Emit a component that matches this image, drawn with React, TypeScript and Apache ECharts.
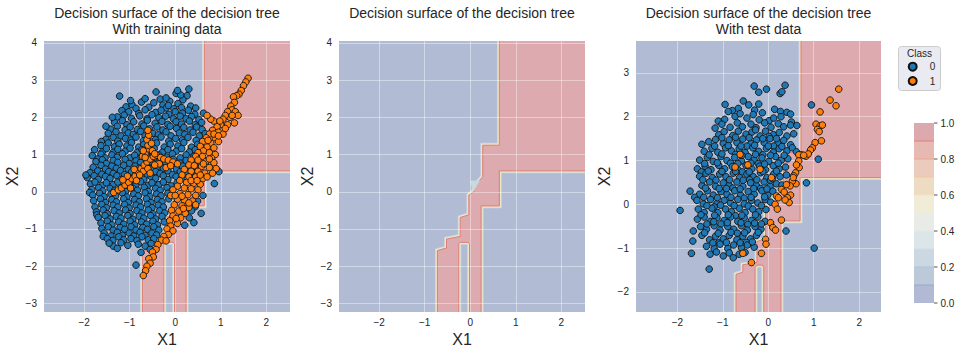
import React, { useEffect, useRef } from 'react';
import * as echarts from 'echarts';

// ---------- data ----------
const TITLES = [
  'Decision surface of the decision tree\nWith training data',
  'Decision surface of the decision tree',
  'Decision surface of the decision tree\nWith test data',
];
const X_RANGE_TRAIN = [-2.88, 2.52];
const Y_RANGE_TRAIN = [-3.23, 4.05];
const X_RANGE_TEST = [-2.91, 2.48];
const Y_RANGE_TEST = [-2.46, 3.73];
const CLASS_NAMES = ['0', '1'];
const CB_LEVELS = [0, 0.1, 0.2, 0.3, 0.4, 0.5, 0.6, 0.7, 0.8, 0.9, 1.0];
const CB_TICKS = [0, 0.2, 0.4, 0.6, 0.8, 1.0];

// decision region (class 1) polygons, in data units
const REGION_TRAIN = [[0.64,4.5],[0.64,1.25],[0.275,1.25],[0.275,0.40],[0.2,0.3],[0.1,0.12],[0.07,0.0],[-0.03,-0.09],[-0.03,-0.62],[-0.22,-0.69],[-0.22,-1.2],[-0.52,-1.27],[-0.52,-1.51],[-0.72,-1.58],[-0.72,-3.6],[-0.25,-3.6],[-0.25,-1.4],[-0.22,-1.36],[-0.05,-1.36],[-0.015,-1.4],[-0.015,-3.6],[0.24,-3.6],[0.24,-0.38],[0.64,-0.38],[0.64,0.56],[2.8,0.56],[2.8,4.5]];
const NOTCH_TRAIN = [[0.0,0.29],[0.2,0.29],[0.07,0.02]];
const REGION_TEST = [[0.72,4.2],[0.72,1.18],[0.33,1.18],[0.33,0.40],[0.25,0.3],[0.14,0.12],[0.1,0.0],[-0.06,-0.1],[-0.06,-0.78],[-0.25,-0.85],[-0.25,-1.33],[-0.56,-1.38],[-0.56,-1.55],[-0.71,-1.6],[-0.71,-2.9],[-0.29,-2.9],[-0.29,-1.45],[-0.25,-1.39],[-0.13,-1.39],[-0.1,-1.45],[-0.1,-2.9],[0.28,-2.9],[0.28,-0.38],[0.7,-0.38],[0.7,0.61],[2.8,0.61],[2.8,4.2]];
const NOTCH_TEST = [[0.02,0.3],[0.22,0.3],[0.1,0.05]];

const TRAIN_0 = [
[-0.42,2.68],[0.02,2.64],[0.3,2.76],[0.26,2.58],[-1.22,2.57],[-0.33,2.49],[-0.12,2.43],[0.17,2.47],[-1.08,2.28],[-0.95,2.34],[-0.74,2.41],[-0.58,2.27],[-0.47,2.39],[-0.27,2.33],[0.06,2.37],[0.14,2.26],[0.34,2.3],[-1.17,2.18],[-0.86,2.24],[-0.2,2.25],[-0.03,2.23],
[-0.98,2.45],[-0.66,2.5],[0.12,2.6],[-0.15,2.32],[0.45,2.25],[0.05,2.72],[-0.2,2.52],
[-1.02,2.15],[-0.8,2.1],[-0.66,2.2],[-0.43,2.13],[-0.31,2.19],[-0.14,2.08],[0.0,2.15],[0.16,2.11],[0.29,2.19],[0.43,2.08],[0.62,2.11],[-1.27,2.01],[-1.12,2.06],[-0.96,1.97],[-0.78,2.04],[-0.62,1.96],[-0.51,2.07],[-0.36,1.99],[-0.21,2.03],[-0.04,1.96],[0.11,2.03],[0.24,1.96],[0.36,2.02],[0.52,1.94],
[-1.33,1.86],[-1.16,1.91],[-1.06,1.8],[-0.91,1.88],[-0.73,1.82],[-0.61,1.92],[-0.44,1.84],[-0.29,1.89],[-0.16,1.81],[0.02,1.88],[0.14,1.82],[0.31,1.9],[0.44,1.8],[0.58,1.86],[-1.38,2.0],
[-1.42,1.68],[-1.27,1.76],[-1.1,1.66],[-0.99,1.74],[-0.83,1.67],[-0.69,1.77],[-0.56,1.69],[-0.4,1.74],[-0.27,1.66],[-0.11,1.76],[0.03,1.7],[0.19,1.73],[0.33,1.66],[0.47,1.74],[0.59,1.67],[-1.52,1.76],
[-1.47,1.57],[-1.3,1.61],[-1.19,1.5],[-1.03,1.58],[-0.92,1.54],[-0.76,1.62],[-0.66,1.5],[-0.49,1.57],[-0.37,1.53],[-0.2,1.61],[-0.09,1.5],[0.09,1.58],[0.21,1.54],[0.39,1.6],[0.53,1.5],[0.66,1.56],
[-1.52,1.41],[-1.36,1.46],[-1.26,1.36],[-1.09,1.43],[-0.97,1.39],[-0.86,1.47],[-0.7,1.37],[-0.6,1.44],[-0.43,1.4],[-0.31,1.47],[-0.14,1.36],[0.01,1.43],[0.16,1.39],[0.28,1.46],[0.46,1.38],[-1.62,1.35],
[-1.63,1.24],[-1.47,1.31],[-1.33,1.21],[-1.23,1.28],[-1.06,1.23],[-0.96,1.32],[-0.8,1.2],[-0.69,1.27],[-0.53,1.24],[-0.41,1.31],[-0.24,1.2],[-0.11,1.28],[0.06,1.23],[0.19,1.32],[0.36,1.2],[0.49,1.27],
[-1.77,1.13],[-1.6,1.07],[-1.51,1.16],[-1.36,1.06],[-1.26,1.14],[-1.1,1.09],[-0.99,1.17],[-0.83,1.06],[-0.73,1.13],[-0.56,1.09],[-0.46,1.16],[-0.28,1.06],[-0.16,1.13],[0.02,1.09],[0.14,1.16],[0.31,1.07],[0.44,1.13],
[-1.82,0.97],[-1.63,1.01],[-1.54,0.91],[-1.39,0.99],[-1.27,0.93],[-1.16,1.02],[-1.0,0.91],[-0.89,0.98],[-0.73,0.94],[-0.63,1.01],[-0.46,0.91],[-0.36,0.99],[-0.19,0.93],[-0.06,1.02],[0.11,0.91],[0.24,0.99],[0.41,0.95],[0.56,0.99],[-1.7,0.88],
[-1.74,0.81],[-1.6,0.86],[-1.51,0.76],[-1.36,0.84],[-1.26,0.79],[-1.1,0.87],[-1.01,0.76],[-0.86,0.83],[-0.76,0.79],[-0.59,0.86],[-0.49,0.76],[-0.33,0.84],[-0.21,0.79],[-0.04,0.87],[0.11,0.77],[0.24,0.84],[0.41,0.79],
[-1.8,0.66],[-1.63,0.71],[-1.53,0.61],[-1.39,0.69],[-1.29,0.63],[-1.13,0.71],[-1.03,0.6],[-0.88,0.69],[-0.79,0.63],[-0.63,0.72],[-0.53,0.61],[-0.38,0.68],[-0.26,0.63],[-0.1,0.71],[0.03,0.61],[0.16,0.69],[0.29,0.63],[0.46,0.67],
[-1.87,0.51],[-1.7,0.56],[-1.61,0.47],[-1.46,0.54],[-1.36,0.49],[-1.2,0.57],[-1.11,0.46],[-0.96,0.53],[-0.86,0.49],[-0.7,0.56],[-0.61,0.46],[-0.43,0.54],[-0.33,0.49],[-0.16,0.56],[-0.06,0.46],[0.11,0.54],[0.24,0.49],[0.41,0.51],[0.96,0.54],
[-1.93,0.38],[-1.78,0.43],[-1.69,0.33],[-1.53,0.41],[-1.43,0.36],[-1.28,0.43],[-1.19,0.33],[-1.03,0.41],[-0.93,0.36],[-0.78,0.44],[-0.69,0.33],[-0.53,0.41],[-0.43,0.36],[-0.26,0.43],[-0.16,0.33],[0.02,0.41],[0.14,0.36],[0.31,0.41],[-1.96,0.45],
[-1.86,0.21],[-1.76,0.26],[-1.6,0.17],[-1.51,0.24],[-1.36,0.19],[-1.26,0.26],[-1.1,0.16],[-1.01,0.23],[-0.86,0.19],[-0.76,0.27],[-0.6,0.17],[-0.51,0.24],[-0.36,0.19],[-0.26,0.26],[-0.09,0.16],[0.04,0.24],[0.86,0.22],
[-1.83,0.06],[-1.68,0.11],[-1.59,0.02],[-1.43,0.09],[-1.33,0.04],[-1.18,0.11],[-1.09,0.01],[-0.93,0.09],[-0.83,0.04],[-0.68,0.12],[-0.59,0.01],[-0.43,0.09],[-0.33,0.04],[-0.18,0.11],[-0.07,0.02],[-1.88,-0.02],
[-1.81,-0.09],[-1.66,-0.04],[-1.56,-0.13],[-1.41,-0.06],[-1.31,-0.11],[-1.16,-0.03],[-1.06,-0.14],[-0.91,-0.06],[-0.81,-0.11],[-0.66,-0.03],[-0.56,-0.13],[-0.41,-0.06],[-0.31,-0.11],[-0.16,-0.04],[0.61,-0.1],
[-1.79,-0.24],[-1.64,-0.19],[-1.53,-0.29],[-1.39,-0.21],[-1.29,-0.27],[-1.13,-0.19],[-1.03,-0.29],[-0.89,-0.21],[-0.79,-0.27],[-0.63,-0.19],[-0.53,-0.29],[-0.39,-0.21],[-0.29,-0.27],[-0.14,-0.19],[0.49,-0.25],
[-1.76,-0.41],[-1.61,-0.34],[-1.51,-0.43],[-1.36,-0.36],[-1.26,-0.41],[-1.11,-0.34],[-1.01,-0.44],[-0.86,-0.36],[-0.76,-0.41],[-0.61,-0.34],[-0.51,-0.43],[-0.37,-0.36],[-0.26,-0.41],[0.44,-0.4],
[-1.73,-0.54],[-1.58,-0.49],[-1.49,-0.59],[-1.34,-0.51],[-1.23,-0.57],[-1.09,-0.49],[-0.99,-0.59],[-0.84,-0.51],[-0.73,-0.57],[-0.59,-0.49],[-0.49,-0.59],[-0.34,-0.51],[-0.23,-0.57],[0.57,-0.58],[0.36,-0.51],[-1.72,-0.62],
[-1.69,-0.69],[-1.54,-0.64],[-1.43,-0.73],[-1.29,-0.66],[-1.19,-0.71],[-1.04,-0.64],[-0.93,-0.74],[-0.79,-0.66],[-0.69,-0.71],[-0.54,-0.64],[-0.43,-0.73],[-0.29,-0.66],[0.31,-0.7],
[-1.63,-0.84],[-1.49,-0.79],[-1.39,-0.89],[-1.24,-0.81],[-1.13,-0.87],[-0.99,-0.79],[-0.89,-0.89],[-0.74,-0.81],[-0.63,-0.87],[-0.49,-0.79],[-0.39,-0.89],[-0.24,-0.81],[0.41,-0.83],[0.21,-0.9],
[-1.61,-0.99],[-1.47,-0.94],[-1.36,-1.03],[-1.21,-0.96],[-1.11,-1.01],[-0.97,-0.94],[-0.86,-1.03],[-0.71,-0.96],[-0.61,-1.01],[-0.47,-0.94],[-0.36,-1.03],
[-1.56,-1.11],[-1.41,-1.19],[-1.27,-1.09],[-1.16,-1.17],[-1.01,-1.11],[-0.91,-1.19],[-0.77,-1.09],[-0.66,-1.17],[-0.51,-1.11],[-0.41,-1.16],[-1.58,-1.2],
[-1.49,-1.26],[-1.37,-1.31],[-1.24,-1.21],[-1.13,-1.29],[-0.97,-1.26],[-0.84,-1.31],[-0.73,-1.21],[-0.59,-1.29],[-0.47,-1.26],
[-1.36,-1.46],[-1.19,-1.37],[-1.04,-1.44],[-0.81,-1.41],[-0.66,-1.46],[-0.53,-1.39],[-1.45,-1.38],[-1.27,-1.52],
[-0.75,-1.63],[-0.86,-1.97],[-0.55,-1.55],
];

const TRAIN_1 = [
[1.6,3.05],[1.55,2.95],[1.5,2.85],[1.45,2.72],[1.4,2.62],[1.35,2.58],[1.28,2.55],[1.3,2.4],[1.22,2.3],[1.25,2.2],[1.15,2.15],[1.32,2.15],[1.38,2.05],[1.2,2.0],[1.1,2.05],[1.05,1.95],[1.3,1.85],[1.15,1.8],[1.0,1.8],[0.92,1.75],[0.85,1.9],[0.78,1.95],[0.7,2.05],[0.82,1.65],[0.95,1.6],[1.05,1.55],[0.75,1.55],[0.68,1.45],[0.88,1.45],[0.95,1.35],[0.6,1.35],[0.78,1.3],[0.55,1.22],[0.7,1.2],[0.85,1.18],[0.62,1.1],[0.5,1.05],[0.75,1.05],[0.88,1.0],[0.45,0.95],[0.6,0.95],[0.8,0.9],[0.35,0.85],[0.5,0.85],[0.68,0.82],[0.85,0.78],[0.3,0.72],[0.42,0.7],[0.58,0.68],[0.75,0.65],[0.9,0.62],[0.2,0.6],[0.35,0.55],[0.5,0.55],[0.65,0.5],[0.82,0.5],[0.15,0.45],[0.3,0.4],[0.45,0.4],[0.6,0.35],[0.1,0.3],[0.25,0.25],[0.4,0.22],[0.55,0.2],[0.05,0.15],[0.2,0.1],[0.35,0.08],[0.5,0.05],[-0.05,0.05],[0.1,-0.05],[0.28,-0.08],[0.45,-0.1],[-0.1,-0.1],[0.05,-0.2],[0.2,-0.22],[0.38,-0.25],[-0.02,-0.35],[0.15,-0.38],[0.3,-0.42],[-0.08,-0.5],[0.08,-0.52],[0.22,-0.58],[-0.05,-0.65],[0.12,-0.7],[-0.12,-0.78],[0.05,-0.85],[-0.1,-0.92],[-0.18,-1.0],[-0.05,-1.05],[-0.15,-1.15],[-0.25,-1.2],[-0.3,-1.3],[-0.2,-1.32],[-0.38,-1.42],[-0.42,-1.55],[-0.5,-1.62],[-0.48,-1.75],[-0.58,-1.8],[-0.55,-1.92],[-0.62,-2.0],[-0.65,-2.12],[-0.7,-2.25],
[0.72,1.38],[0.85,1.55],[0.62,0.75],[0.75,0.88],[0.55,0.45],[0.7,0.4],[0.35,0.3],[0.48,0.3],[0.0,-0.1],[0.15,-0.12],[0.3,-0.3],[0.45,-0.35],[0.02,-0.72],[0.18,-0.45],[0.95,1.5],[1.1,1.7],[0.98,1.9],[1.25,2.05],
[-1.35,-0.02],[-1.25,0.05],[-1.18,0.1],[-1.1,0.18],[-1.02,0.25],[-0.95,0.35],[-0.98,0.1],[-0.88,0.42],[-0.85,0.3],[-0.8,0.52],[-0.75,0.62],[-0.7,0.55],[-0.68,0.72],[-0.62,0.8],[-0.72,0.95],[-0.65,1.05],[-0.55,0.88],[-0.48,0.95],[-0.4,0.98],[-0.32,0.92],[-0.25,0.88],[-0.15,0.85],[-0.05,0.8],[0.05,0.75],[-0.58,1.15],[-0.5,1.1],[-0.6,1.25],[-0.62,1.4],[-0.58,1.52],[-0.6,1.65],[-0.45,1.02],[-0.35,0.75],[-0.2,0.65],[-0.1,0.7],
[-0.78,0.45],[-0.6,0.62],[-0.45,0.72],[-0.55,0.5],[-1.05,0.42],[-1.15,0.32],[-0.9,0.6],[-0.7,1.1],[-0.52,1.3],[-0.66,0.92],
];

const TEST_0 = [
[-0.31,2.7],[-0.21,2.56],[-0.04,2.63],[0.26,2.53],[0.37,2.72],[0.3,2.57],
[-0.95,2.28],[-0.66,2.19],[-0.55,2.36],[-0.43,2.27],[-0.21,2.29],[0.14,2.17],[0.27,2.12],[0.41,2.1],[0.49,2.06],[-0.79,2.14],[0.95,2.27],[-0.3,2.15],
[-1.1,1.9],[-0.88,2.12],[-0.73,2.01],[-0.62,2.07],[-0.47,1.97],[-0.33,2.05],[-0.13,2.09],[0.02,1.91],[0.12,1.97],[0.28,2.0],[0.51,1.88],[-0.96,1.94],[-0.2,1.93],
[-1.17,1.74],[-1.02,1.83],[-0.84,1.76],[-0.68,1.86],[-0.57,1.77],[-0.38,1.83],[-0.27,1.75],[-0.08,1.86],[0.06,1.76],[0.22,1.84],[0.34,1.77],[0.49,1.81],[0.63,1.8],
[-1.09,1.59],[-0.97,1.66],[-0.78,1.57],[-0.66,1.67],[-0.49,1.6],[-0.36,1.65],[-0.18,1.56],[-0.06,1.67],[0.11,1.59],[0.24,1.64],[0.41,1.56],[0.56,1.61],[-0.28,1.7],[0.02,1.55],
[-1.46,1.37],[-1.31,1.43],[-1.16,1.48],[-0.99,1.39],[-0.86,1.47],[-0.69,1.41],[-0.56,1.49],[-0.38,1.39],[-0.26,1.47],[-0.09,1.41],[0.04,1.5],[0.21,1.39],[0.34,1.46],[0.49,1.36],[-0.47,1.33],[0.12,1.33],
[-1.41,1.21],[-1.24,1.28],[-1.11,1.19],[-0.94,1.29],[-0.81,1.22],[-0.64,1.27],[-0.51,1.18],[-0.34,1.29],[-0.21,1.21],[-0.04,1.28],[0.11,1.19],[0.24,1.27],[0.41,1.22],[0.53,1.29],[0.62,1.2],[-0.72,1.14],[-0.12,1.13],
[-1.51,1.01],[-1.34,1.07],[-1.21,0.98],[-1.04,1.09],[-0.91,1.0],[-0.74,1.07],[-0.59,0.99],[-0.44,1.09],[-0.31,1.01],[-0.14,1.06],[0.01,0.98],[0.16,1.09],[0.29,1.01],[0.43,1.04],[1.1,1.03],[-0.83,0.94],[-0.22,0.93],
[-1.56,0.81],[-1.39,0.87],[-1.26,0.79],[-1.09,0.89],[-0.96,0.81],[-0.79,0.86],[-0.66,0.78],[-0.49,0.89],[-0.36,0.81],[-0.19,0.87],[-0.06,0.79],[0.11,0.88],[0.24,0.81],[0.38,0.85],[-1.47,0.74],[-0.57,0.74],
[-1.51,0.64],[-1.37,0.71],[-1.23,0.61],[-1.07,0.69],[-0.93,0.63],[-0.77,0.71],[-0.63,0.61],[-0.47,0.69],[-0.33,0.63],[-0.17,0.72],[-0.03,0.61],[0.12,0.69],[0.26,0.63],[0.4,0.67],[-1.15,0.55],[-0.41,0.56],
[-1.46,0.43],[-1.29,0.51],[-1.16,0.41],[-0.99,0.49],[-0.86,0.43],[-0.69,0.51],[-0.56,0.41],[-0.39,0.49],[-0.26,0.43],[-0.09,0.51],[0.04,0.41],[0.18,0.47],[0.3,0.44],[0.84,0.49],[-0.78,0.37],[-0.17,0.36],
[-1.72,0.3],[-1.51,0.23],[-1.34,0.31],[-1.21,0.21],[-1.04,0.29],[-0.91,0.23],[-0.74,0.31],[-0.61,0.21],[-0.44,0.29],[-0.31,0.23],[-0.14,0.31],[-0.01,0.21],[0.1,0.3],[-1.62,0.16],[-0.53,0.14],
[-1.57,0.09],[-1.43,0.01],[-1.27,0.11],[-1.13,0.02],[-0.97,0.09],[-0.83,0.03],[-0.67,0.11],[-0.53,0.01],[-0.37,0.09],[-0.23,0.03],[-0.07,0.11],[0.05,0.05],[-1.19,-0.06],[-0.44,-0.04],
[-1.94,-0.14],[-1.54,-0.11],[-1.41,-0.19],[-1.24,-0.09],[-1.11,-0.19],[-0.94,-0.11],[-0.81,-0.17],[-0.64,-0.09],[-0.51,-0.19],[-0.34,-0.11],[-0.21,-0.17],[-0.05,-0.12],[-0.72,-0.26],
[-1.56,-0.34],[-1.41,-0.29],[-1.27,-0.39],[-1.13,-0.31],[-0.97,-0.37],[-0.83,-0.29],[-0.67,-0.39],[-0.53,-0.31],[-0.37,-0.37],[-0.23,-0.29],[-0.07,-0.39],[-1.04,-0.45],[-0.45,-0.46],
[-1.65,-0.61],[-1.49,-0.51],[-1.36,-0.57],[-1.19,-0.49],[-1.06,-0.59],[-0.89,-0.51],[-0.76,-0.57],[-0.59,-0.49],[-0.46,-0.59],[-0.29,-0.51],[-0.16,-0.57],[0.39,-0.61],[-0.68,-0.66],
[-1.66,-0.84],[-1.46,-0.71],[-1.29,-0.81],[-1.16,-0.73],[-0.99,-0.79],[-0.86,-0.71],[-0.69,-0.81],[-0.56,-0.73],[-0.39,-0.79],[-0.26,-0.71],[-1.09,-0.88],[-0.48,-0.87],
[-1.36,-0.96],[-1.19,-1.01],[-1.06,-0.91],[-0.89,-1.01],[-0.76,-0.93],[-0.59,-0.99],[-0.46,-0.93],[-0.31,-0.98],[1.01,-1.0],
[-1.69,-1.12],[-1.28,-1.14],[-1.14,-1.09],[-0.99,-1.18],[-0.86,-1.11],[-0.77,-1.22],[-0.64,-1.14],[-0.51,-1.1],
[-1.3,-1.48],
[-1.02,1.52],[-0.72,1.53],[-0.42,1.52],[-0.12,1.5],[0.18,1.5],
[-1.18,1.33],[-0.88,1.34],[-0.6,1.33],[-0.3,1.35],[0.0,1.33],[0.3,1.32],
[-1.3,1.13],[-1.02,1.15],[-0.58,1.12],[-0.28,1.14],[0.05,1.12],[0.35,1.12],
[-1.4,0.93],[-1.12,0.95],[-0.67,0.93],[-0.38,0.94],[-0.08,0.92],[0.22,0.94],
[-1.32,0.76],[-1.02,0.75],[-0.72,0.75],[-0.42,0.74],[-0.12,0.75],[0.18,0.76],
[-1.44,0.56],[-0.85,0.56],[-0.55,0.55],[-0.25,0.56],[0.05,0.55],
[-1.38,0.37],[-1.08,0.36],[-0.92,0.36],[-0.62,0.35],[-0.32,0.36],[-0.03,0.35],
[-1.42,0.16],[-1.12,0.15],[-0.82,0.16],[-0.38,0.16],[-0.08,0.17],
[-1.35,-0.03],[-1.05,-0.02],[-0.75,-0.03],[-0.15,-0.03],
[-1.48,-0.24],[-1.18,-0.25],[-0.88,-0.24],[-0.58,-0.25],[-0.28,-0.24],
[-1.35,-0.45],[-1.2,-0.4],[-0.9,-0.42],[-0.6,-0.42],[-0.3,-0.43],[-0.15,-0.45],
[-1.4,-0.65],[-1.1,-0.66],[-0.82,-0.64],[-0.52,-0.65],[-0.22,-0.64],
[-1.22,-0.88],[-0.92,-0.87],[-0.62,-0.88],[-0.35,-0.86],
];

const TEST_1 = [
[1.55,2.63],[1.36,2.38],[1.49,2.25],[1.14,2.11],[1.05,1.83],[1.14,1.79],[1.19,1.81],[1.08,1.71],[1.12,1.66],[1.17,1.45],[1.03,1.41],[0.97,1.29],[0.93,1.24],[0.83,1.1],[0.73,1.13],[0.67,1.13],[0.67,0.99],[0.68,0.84],[0.6,0.72],[0.56,0.65],[0.61,0.47],[0.53,0.53],[0.48,0.42],[0.55,0.61],[0.49,0.21],[0.42,0.15],[0.46,0.04],[0.37,0.1],[0.29,0.34],[0.18,0.19],[0.22,0.15],[0.15,0.0],[0.2,-0.11],[0.29,-0.36],[0.05,-0.42],[0.1,-0.53],[0.16,-0.59],[-0.06,-0.8],[-0.05,-0.91],[-0.15,-1.12],[-0.56,-1.12],[-0.37,-1.33],[-0.62,1.14],[-0.73,0.85],[-0.45,0.9],[-0.18,0.8],[0.09,0.59],[0.88,1.15],[0.78,1.12],[0.62,0.9],[0.4,0.45],[0.35,0.28],[0.07,0.61],
];

// ---------- styles ----------
const FONT = '"Liberation Sans", Arial, sans-serif';
const TEXT = '#262626';
const BLUE_REGION = '#b1bcd4';
const RED_REGION = '#dcaaaf';
const EDGE_OUTER = '#c4d8e1';
const EDGE_MID = '#eee6c6';
const EDGE_INNER = '#df7d73';
const NOTCH_FILL = '#c9d8e1';
const GRID_LINE = 'rgba(255,255,255,0.4)';
const PT_COLORS = ['#1f77b4', '#ff7f0e'];
const CB_FILLS = ['#b2b9d4', '#bcc9d9', '#cbd8e2', '#dce5e8', '#e9ebe6', '#f0ecd7', '#eedcc2', '#ebcbbb', '#e6b9b3', '#dca9af'];
const CB_LINES = ['#94a9d2', '#abc3dc', '#cfdfe8', '#e2e9e8', '#eeeedd', '#f2e4bd', '#f2c69c', '#eea48c', '#e07f76'];

const PANELS = [
  { left: 44, width: 246, xr: X_RANGE_TRAIN, yr: Y_RANGE_TRAIN, region: REGION_TRAIN, notch: NOTCH_TRAIN, pts: [TRAIN_0, TRAIN_1] },
  { left: 339, width: 246, xr: X_RANGE_TRAIN, yr: Y_RANGE_TRAIN, region: REGION_TRAIN, notch: NOTCH_TRAIN, pts: null },
  { left: 636, width: 245, xr: X_RANGE_TEST, yr: Y_RANGE_TEST, region: REGION_TEST, notch: NOTCH_TEST, pts: [TEST_0, TEST_1] },
];
const TOP = 41;
const HEIGHT = 271;

const fmtTick = (v: number) =>
  Math.abs(v - Math.round(v)) < 1e-6 ? String(Math.round(v)).replace('-', '\u2212') : '';

function buildOption() {
  const grid: any[] = [];
  const xAxis: any[] = [];
  const yAxis: any[] = [];
  const series: any[] = [];
  const title: any[] = [];

  PANELS.forEach((p, i) => {
    grid.push({ left: p.left, top: TOP, width: p.width, height: HEIGHT, show: true, backgroundColor: BLUE_REGION, borderWidth: 0 });
    const common = {
      type: 'value', gridIndex: i, minInterval: 1, maxInterval: 1, z: 2,
      nameLocation: 'middle', nameTextStyle: { fontSize: 16, color: TEXT, fontFamily: FONT },
      axisLine: { show: false }, axisTick: { show: false },
      axisLabel: { fontSize: 10, color: TEXT, fontFamily: FONT, formatter: fmtTick },
      splitLine: { show: true, showMinLine: false, showMaxLine: false, lineStyle: { color: GRID_LINE, width: 1 } },
    };
    xAxis.push({ ...common, min: p.xr[0], max: p.xr[1], splitNumber: 6, name: 'X1', nameGap: 17, axisLabel: { ...common.axisLabel, margin: 5 } });
    yAxis.push({ ...common, min: p.yr[0], max: p.yr[1], splitNumber: 8, name: 'X2', nameGap: 24, axisLabel: { ...common.axisLabel, margin: 7 } });
    title.push({
      text: TITLES[i], left: p.left + p.width / 2, top: 4.5, textAlign: 'center', padding: 0,
      textStyle: { fontSize: 14, fontWeight: 'normal', color: TEXT, lineHeight: 16, fontFamily: FONT },
    });
    const poly = p.region;
    const notch = p.notch;
    series.push({
      type: 'custom', xAxisIndex: i, yAxisIndex: i, z: 1, clip: true, silent: true,
      data: [[0, 0]],
      renderItem: (params: any, api: any) => {
        const pts = poly.map((q) => api.coord(q));
        const npts = notch.map((q) => api.coord(q));
        return {
          type: 'group',
          children: [
            { type: 'polygon', shape: { points: pts }, style: { fill: 'none', stroke: EDGE_OUTER, lineWidth: 4.8 } },
            { type: 'polygon', shape: { points: pts }, style: { fill: 'none', stroke: EDGE_MID, lineWidth: 3.2 } },
            { type: 'polygon', shape: { points: pts }, style: { fill: RED_REGION, stroke: EDGE_INNER, lineWidth: 1 } },
            { type: 'polygon', shape: { points: npts }, style: { fill: NOTCH_FILL, stroke: EDGE_OUTER, lineWidth: 0.8 } },
          ],
        };
      },
    });
    if (p.pts) {
      p.pts.forEach((d, c) => {
        series.push({
          type: 'scatter', name: CLASS_NAMES[c], xAxisIndex: i, yAxisIndex: i, z: 3 + c, silent: true,
          data: d, symbol: 'circle', symbolSize: 6.6,
          itemStyle: { color: PT_COLORS[c], borderColor: '#111', borderWidth: 0.9, opacity: 1 },
          emphasis: { disabled: true },
        });
      });
    }
  });

  // colorbar
  grid.push({ left: 914, top: 123, width: 20, height: 180, show: false });
  xAxis.push({ type: 'value', gridIndex: 3, min: 0, max: 1, axisLine: { show: false }, axisTick: { show: false }, axisLabel: { show: false }, splitLine: { show: false } });
  yAxis.push({
    type: 'value', gridIndex: 3, position: 'right', min: 0, max: 1, interval: 0.2,
    axisLine: { show: false }, splitLine: { show: false }, axisTick: { show: false },
    axisLabel: { fontSize: 10, color: TEXT, fontFamily: FONT, margin: 6.5, formatter: (v: number) => (CB_TICKS.some((t) => Math.abs(t - v) < 1e-6) ? v.toFixed(1) : '') },
  });
  series.push({
    type: 'custom', xAxisIndex: 3, yAxisIndex: 3, silent: true, z: 2,
    data: CB_FILLS.map((_, i) => [0.5, (CB_LEVELS[i] + CB_LEVELS[i + 1]) / 2]),
    renderItem: (params: any, api: any) => {
      const i = params.dataIndex;
      const p0 = api.coord([0, CB_LEVELS[i]]);
      const p1 = api.coord([1, CB_LEVELS[i + 1]]);
      const children: any[] = [
        { type: 'rect', shape: { x: p0[0], y: p1[1], width: p1[0] - p0[0], height: p0[1] - p1[1] }, style: { fill: CB_FILLS[i] } },
      ];
      if (i > 0) {
        children.push({ type: 'rect', shape: { x: p0[0], y: p0[1] - 0.5, width: p1[0] - p0[0], height: 1 }, style: { fill: CB_LINES[i - 1] } });
      }
      return { type: 'group', children };
    },
  });
  series.push({
    type: 'custom', xAxisIndex: 3, yAxisIndex: 3, silent: true, z: 3,
    data: CB_TICKS.map((t) => [1, t]),
    renderItem: (params: any, api: any) => {
      const p = api.coord([1, CB_TICKS[params.dataIndex]]);
      return { type: 'rect', shape: { x: p[0], y: p[1] - 0.4, width: 3.5, height: 0.8 }, style: { fill: TEXT } };
    },
  });

  return {
    animation: false,
    backgroundColor: '#ffffff',
    title,
    grid,
    xAxis,
    yAxis,
    series,
    legend: {
      data: CLASS_NAMES, orient: 'vertical', left: 907.7, top: 60.7, padding: 0, z: 6,
      itemWidth: 8, itemHeight: 8, itemGap: 2.3, icon: 'circle', selectedMode: false,
      textStyle: { fontSize: 10, color: TEXT, fontFamily: FONT, lineHeight: 12, padding: [0, 0, 0, 8] },
    },
    graphic: [
      { type: 'rect', z: 5, shape: { x: 898.5, y: 46.5, width: 42, height: 44, r: 3 }, style: { fill: '#eaeaf2', stroke: '#cccccc', lineWidth: 1 } },
      { type: 'text', z: 6, x: 919.5, y: 53.5, style: { text: 'Class', fill: TEXT, font: `10px ${FONT}`, align: 'center', verticalAlign: 'middle' } },
    ],
  };
}

export default function App() {
  const ref = useRef<HTMLDivElement>(null);
  useEffect(() => {
    const chart = echarts.init(ref.current as HTMLDivElement, null, { renderer: 'svg' });
    chart.setOption(buildOption() as any);
    return () => chart.dispose();
  }, []);
  return <div ref={ref} style={{ position: 'absolute', left: 0, top: 0, width: 962, height: 353, background: '#fff' }} />;
}
